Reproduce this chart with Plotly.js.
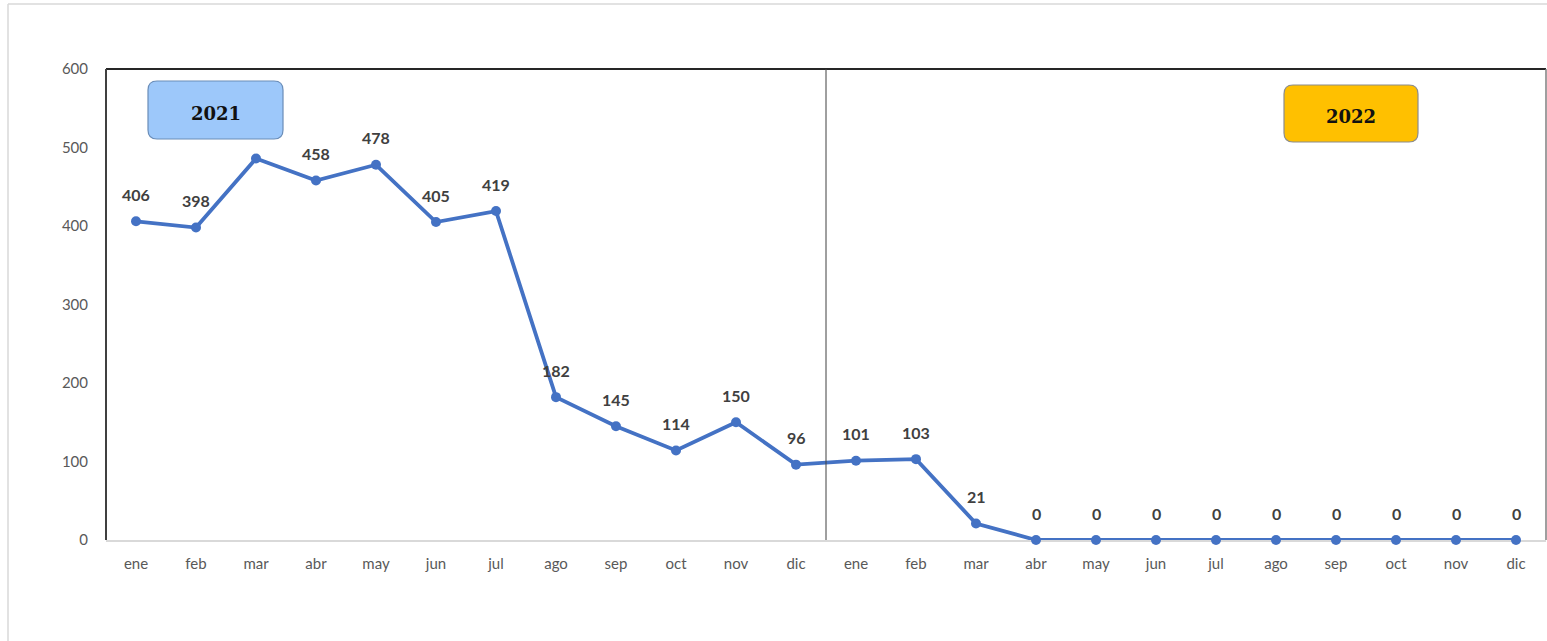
<!DOCTYPE html>
<html>
<head>
<meta charset="utf-8">
<script src="https://cdn.plot.ly/plotly-3.0.1.min.js"></script>
<style>html,body{margin:0;padding:0;background:#fff;}#chart{width:1547px;height:641px;}</style>
</head>
<body>
<div id="chart"></div>
<script>
// ---- data ----
const months = ["ene","feb","mar","abr","may","jun","jul","ago","sep","oct","nov","dic",
                "ene","feb","mar","abr","may","jun","jul","ago","sep","oct","nov","dic"];
const values = [406,398,486,458,478,405,419,182,145,114,150,96,
                101,103,21,0,0,0,0,0,0,0,0,0];
const labels = ["406","398",null,"458","478","405","419","182","145","114","150","96",
                "101","103","21","0","0","0","0","0","0","0","0","0"];
const years = ["2021","2022"];
const yTicks = [0,100,200,300,400,500,600];

// ---- layout helpers ----
const W = 1547, H = 641;
const L = 106, R = 1546, T = 69, B = 540;
const px = x => (x - L) / (R - L);
const py = y => (B - y) / (B - T);
function roundRect(x0, y0, x1, y1, r) {
  const P = (x, y) => px(x).toFixed(5) + ',' + py(y).toFixed(5);
  return 'M' + P(x0 + r, y0) + ' L' + P(x1 - r, y0) + ' Q' + P(x1, y0) + ' ' + P(x1, y0 + r) +
         ' L' + P(x1, y1 - r) + ' Q' + P(x1, y1) + ' ' + P(x1 - r, y1) +
         ' L' + P(x0 + r, y1) + ' Q' + P(x0, y1) + ' ' + P(x0, y1 - r) +
         ' L' + P(x0, y0 + r) + ' Q' + P(x0, y0) + ' ' + P(x0 + r, y0) + ' Z';
}

const xIdx = months.map((m, i) => i);

const trace = {
  x: xIdx, y: values, type: 'scatter', mode: 'lines+markers',
  line: {color: '#4472C4', width: 3.8},
  marker: {color: '#4472C4', size: 10},
  cliponaxis: false, hoverinfo: 'skip'
};

const annotations = [];
labels.forEach((t, i) => {
  if (t === null) return;
  annotations.push({
    x: xIdx[i], y: values[i], xref: 'x', yref: 'y', text: t, showarrow: false,
    yshift: 27, font: {family: 'Lato, sans-serif', size: 16, color: '#404040', weight: 'bold'}
  });
});
// year badges
const boxes = [
  {rect: [148, 81, 283, 139], fill: '#9DC8FA', line: '#6A8DB8'},
  {rect: [1284, 85, 1418, 142], fill: '#FFC000', line: '#8C8C8C'}
];
const shapes = [];
boxes.forEach((b, k) => {
  const [x0, y0, x1, y1] = b.rect;
  shapes.push({type: 'path', xref: 'paper', yref: 'paper', path: roundRect(x0, y0, x1, y1, 9),
    fillcolor: b.fill, line: {color: b.line, width: 1.2}, layer: 'above'});
  annotations.push({xref: 'paper', yref: 'paper', x: px((x0 + x1) / 2), y: py((y0 + y1) / 2 + 3),
    xanchor: 'center', yanchor: 'middle',
    text: '<b>' + years[k] + '</b>', showarrow: false,
    font: {family: '"DejaVu Serif", serif', size: 18, color: '#111'}});
});
// frame lines
shapes.push({type: 'line', xref: 'paper', yref: 'paper', x0: 0, x1: 1, y0: 1, y1: 1, line: {color: '#262626', width: 2}});
shapes.push({type: 'line', xref: 'paper', yref: 'paper', x0: 0, x1: 0, y0: 0, y1: 1, line: {color: '#404040', width: 2}});
shapes.push({type: 'line', xref: 'paper', yref: 'paper', x0: 1, x1: 1, y0: 0, y1: 1, line: {color: '#7f7f7f', width: 1.5}});
// year divider
shapes.push({type: 'line', xref: 'x', yref: 'paper', x0: 11.5, x1: 11.5, y0: 0, y1: 1, line: {color: '#404040', width: 1}});
// outer chart border (partially visible)
shapes.push({type: 'line', xref: 'paper', yref: 'paper', x0: px(8), x1: px(1547), y0: py(4), y1: py(4), line: {color: '#d9d9d9', width: 1.5}});
shapes.push({type: 'line', xref: 'paper', yref: 'paper', x0: px(8), x1: px(8), y0: py(4), y1: py(641), line: {color: '#d9d9d9', width: 1.5}});

const tickFont = {family: 'Lato, sans-serif', size: 15, color: '#595959'};
const layout = {
  width: W, height: H,
  margin: {l: L, r: W - R, t: T, b: H - B, pad: 0},
  paper_bgcolor: '#ffffff', plot_bgcolor: '#ffffff',
  showlegend: false,
  xaxis: {range: [-0.5, 23.5], tickvals: xIdx, ticktext: months, showgrid: false, zeroline: false,
          showline: true, linecolor: '#d9d9d9', linewidth: 2, ticks: '', tickfont: tickFont,
          ticklabelstandoff: 9, fixedrange: true, layer: 'below traces'},
  yaxis: {range: [0, 600], tickvals: yTicks, showgrid: false, zeroline: false, showline: false,
          ticks: '', tickfont: tickFont, ticklabelstandoff: 17, fixedrange: true, layer: 'below traces'},
  shapes: shapes, annotations: annotations
};
Plotly.newPlot('chart', [trace], layout, {displayModeBar: false, staticPlot: true});
</script>
</body>
</html>
